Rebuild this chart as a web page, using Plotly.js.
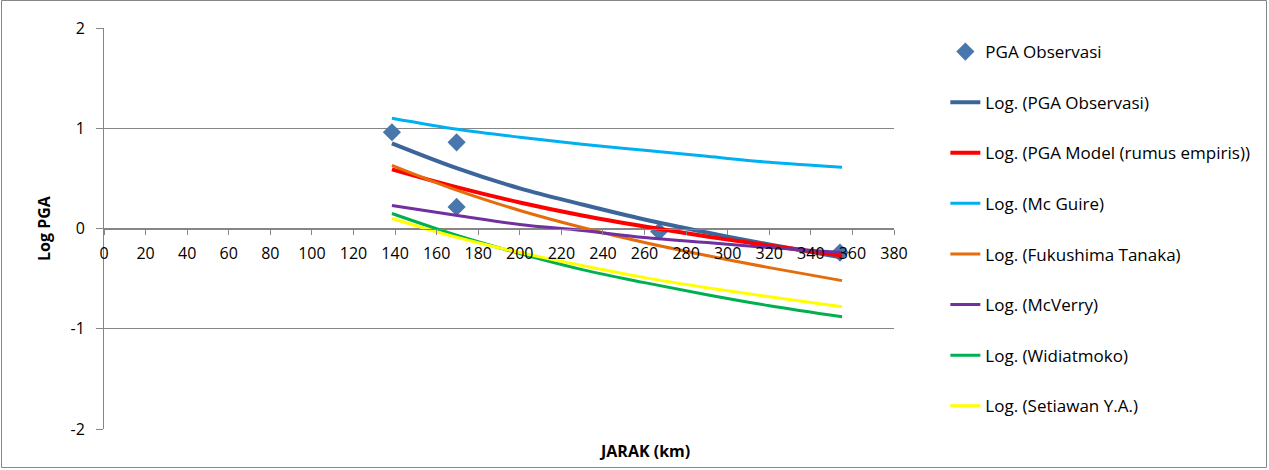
<!DOCTYPE html>
<html>
<head>
<meta charset="utf-8">
<script src="https://cdn.plot.ly/plotly-3.0.1.min.js"></script>
<style>html,body{margin:0;padding:0;background:#fff;}#chart{width:1269px;height:470px;}</style>
</head>
<body>
<div id="chart"></div>
<script>
// Observed points
const obsX = [138.5, 169.6, 169.6, 267, 354];
const obsY = [0.96, 0.86, 0.215, -0.03, -0.24];

// Trendline sample distances (km) and values
const trendX = [138.5, 170, 200, 230, 260, 290, 320, 355];
const logObs      = [0.85, 0.60, 0.40, 0.24, 0.09, -0.04, -0.16, -0.29];
const logModel    = [0.59, 0.41, 0.26, 0.13, 0.02, -0.08, -0.17, -0.27];
const logMcGuire  = [1.10, 0.99, 0.91, 0.84, 0.78, 0.72, 0.66, 0.61];
const logFukushima= [0.63, 0.38, 0.18, 0.01, -0.14, -0.27, -0.39, -0.52];
const logMcVerry  = [0.23, 0.13, 0.04, -0.02, -0.09, -0.14, -0.19, -0.24];
const logWidiat   = [0.15, -0.07, -0.25, -0.41, -0.54, -0.66, -0.77, -0.88];
const logSetiawan = [0.10, -0.09, -0.24, -0.37, -0.49, -0.59, -0.68, -0.78];

// Axis tick labels
const yTickVals = [-2, -1, 0, 1, 2];
const yTickText = ['-2', '-1', '0', '1', '2'];

const names = [
  'Log. (PGA Observasi)',
  'Log. (PGA Model (rumus empiris))',
  'Log. (Mc Guire)',
  'Log. (Fukushima Tanaka)',
  'Log. (McVerry)',
  'Log. (Widiatmoko)',
  'Log. (Setiawan Y.A.)'
];
const series = [logObs, logModel, logMcGuire, logFukushima, logMcVerry, logWidiat, logSetiawan];
const colors = ['#3C6599', '#FF0000', '#00B0F0', '#E46C0A', '#7030A0', '#00B050', '#FFFF00'];
const widths = [4, 4, 3, 3, 3, 3, 3];

const traces = [{
  x: obsX, y: obsY, type: 'scatter', mode: 'markers', name: 'PGA Observasi',
  legendgroup: 'g0',
  marker: {symbol: 'diamond', size: 14, color: '#4A76AE'}
}];
series.forEach((s, i) => {
  traces.push({
    x: trendX, y: s, type: 'scatter', mode: 'lines', name: names[i],
    legendgroup: 'g' + (i + 1),
    line: {color: colors[i], width: widths[i], shape: 'spline', smoothing: 1}
  });
});

const fam = '"Open Sans", "DejaVu Sans", sans-serif';
const tickFont = {family: fam, size: 16, color: '#000'};
const legFont = {family: fam, size: 17, color: '#000'};
const gray = '#868686';

const layout = {
  width: 1269, height: 470,
  margin: {l: 104, r: 375, t: 28, b: 41},
  paper_bgcolor: '#fff', plot_bgcolor: '#fff',
  font: tickFont,
  showlegend: true,
  legend: {
    x: 1.065, xanchor: 'left', y: 0.985, yanchor: 'top',
    font: legFont, tracegroupgap: 25.5, itemwidth: 30,
    bgcolor: 'rgba(0,0,0,0)'
  },
  xaxis: {
    range: [0, 380], dtick: 20, tick0: 0,
    anchor: 'free', position: 0.5,
    showline: true, linecolor: gray, linewidth: 1,
    ticks: 'outside', ticklen: 5, tickcolor: gray,
    showgrid: false, zeroline: false,
    ticklabelstandoff: 5,
    tickfont: tickFont
  },
  yaxis: {
    range: [-2, 2], tickmode: 'array', tickvals: yTickVals, ticktext: yTickText,
    showline: true, linecolor: gray, linewidth: 1,
    ticks: 'outside', ticklen: 7, tickcolor: gray,
    showgrid: true, gridcolor: gray, gridwidth: 1,
    zeroline: false, ticklabelstandoff: 8,
    tickfont: tickFont,
    title: {text: '<b>Log PGA</b>', font: {family: fam, size: 16, color: '#000'}, standoff: 15}
  },
  annotations: [{
    text: '<b>JARAK (km)</b>', xref: 'paper', yref: 'paper',
    x: (644 - 104) / 790, y: -0.055, xanchor: 'center', yanchor: 'middle',
    showarrow: false, font: {family: fam, size: 16, color: '#000'}
  }],
  shapes: [{
    type: 'rect', xref: 'paper', yref: 'paper',
    x0: (1.5 - 104) / 790, x1: (1266.5 - 104) / 790,
    y0: (429 - 467.5) / 401, y1: (429 - 0.5) / 401,
    line: {color: gray, width: 1}, fillcolor: 'rgba(0,0,0,0)', layer: 'below'
  }],
  hovermode: false
};

Plotly.newPlot('chart', traces, layout, {displayModeBar: false, staticPlot: true});
</script>
</body>
</html>
